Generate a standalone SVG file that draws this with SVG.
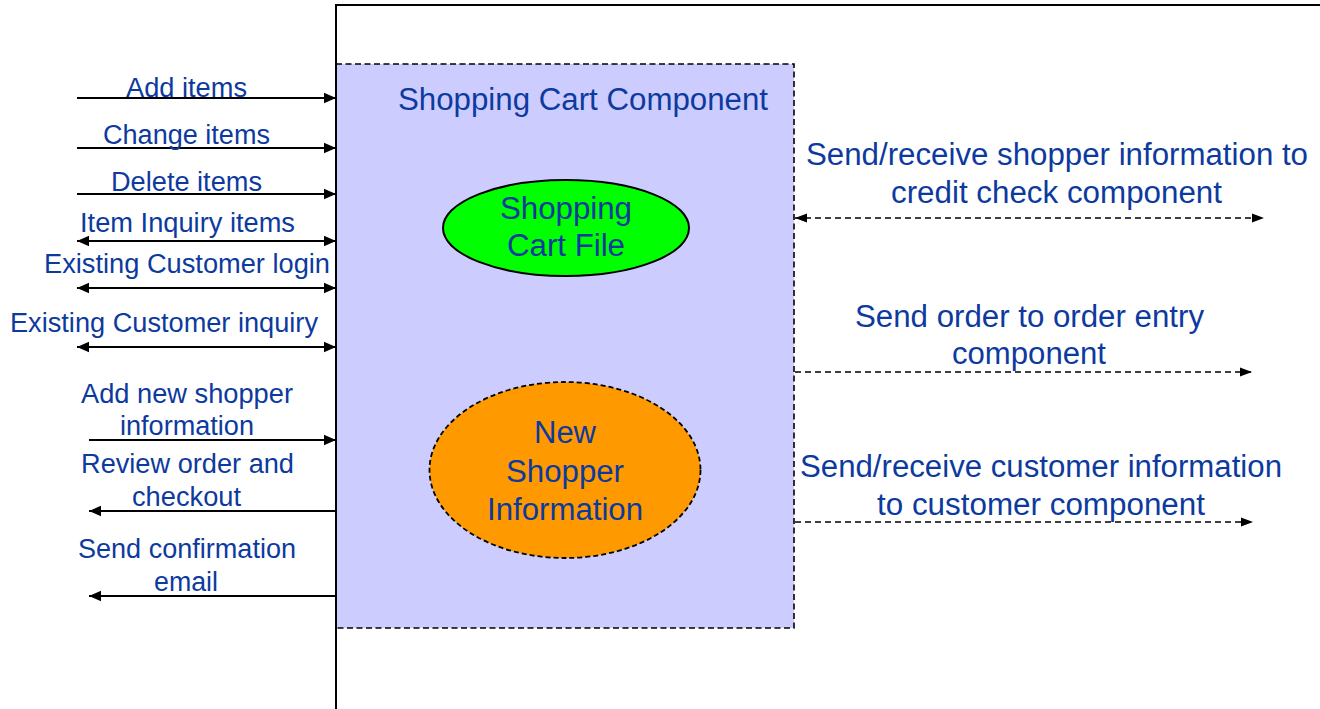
<svg xmlns="http://www.w3.org/2000/svg" width="1320" height="709" viewBox="0 0 1320 709">
<style>
.t{font-family:"Liberation Sans",Arial,sans-serif;fill:#0d3a9e;text-anchor:middle}
.s{font-size:27px}
.l{font-size:31px}
.c{stroke:#000;stroke-width:2;fill:none}
.d{stroke:#000;stroke-width:1.6;fill:none;stroke-dasharray:6 4}
</style>
<defs>
<marker id="a" markerUnits="userSpaceOnUse" markerWidth="14" markerHeight="12" refX="12" refY="6" orient="auto-start-reverse"><path d="M0,0.8 L12,6 L0,11.2 z" fill="#000"/></marker>
<marker id="b" markerUnits="userSpaceOnUse" markerWidth="14" markerHeight="12" refX="12" refY="6" orient="auto-start-reverse"><path d="M0,1.5 L12,6 L0,10.5 z" fill="#000"/></marker>
</defs>
<rect width="1320" height="709" fill="#fff"/>
<g id="frame">
<path d="M336,709 V5 H1320" stroke="#000" stroke-width="2" fill="none"/>
</g>
<g id="component">
<rect x="336" y="64" width="458" height="564" fill="#ccccff" stroke="#000" stroke-width="1.6" stroke-dasharray="6 3.5"/>
<path d="M336,64 V628" stroke="#000" stroke-width="2"/>
<text class="t l" x="583" y="110" textLength="370" lengthAdjust="spacingAndGlyphs">Shopping Cart Component</text>
</g>
<g id="cart-file">
<ellipse cx="566" cy="228" rx="123" ry="48" fill="#00ff00" stroke="#000" stroke-width="2"/>
<text class="t l" x="566" y="219" textLength="132" lengthAdjust="spacingAndGlyphs">Shopping</text>
<text class="t l" x="566" y="256" textLength="118" lengthAdjust="spacingAndGlyphs">Cart File</text>
</g>
<g id="new-shopper">
<ellipse cx="565" cy="470" rx="135.5" ry="88" fill="#ff9900" stroke="#000" stroke-width="1.8" stroke-dasharray="5 3"/>
<text class="t l" x="565" y="443" textLength="62" lengthAdjust="spacingAndGlyphs">New</text>
<text class="t l" x="565" y="482" textLength="118" lengthAdjust="spacingAndGlyphs">Shopper</text>
<text class="t l" x="565" y="520" textLength="156" lengthAdjust="spacingAndGlyphs">Information</text>
</g>
<g id="connectors">
<line class="c" x1="77" y1="98" x2="336" y2="98" marker-end="url(#a)"/>
<line class="c" x1="77" y1="148" x2="336" y2="148" marker-end="url(#a)"/>
<line class="c" x1="77" y1="194" x2="336" y2="194" marker-end="url(#a)"/>
<line class="c" x1="77" y1="241" x2="336" y2="241" marker-start="url(#a)" marker-end="url(#a)"/>
<line class="c" x1="77" y1="288" x2="336" y2="288" marker-start="url(#a)" marker-end="url(#a)"/>
<line class="c" x1="77" y1="347" x2="336" y2="347" marker-start="url(#a)" marker-end="url(#a)"/>
<line class="c" x1="89" y1="440" x2="336" y2="440" marker-end="url(#a)"/>
<line class="c" x1="336" y1="511" x2="89" y2="511" marker-end="url(#a)"/>
<line class="c" x1="336" y1="596" x2="89" y2="596" marker-end="url(#a)"/>
<line class="d" x1="795" y1="218" x2="1264" y2="218" marker-start="url(#b)" marker-end="url(#b)"/>
<line class="d" x1="795" y1="372" x2="1252" y2="372" marker-end="url(#b)"/>
<line class="d" x1="795" y1="522" x2="1253" y2="522" marker-end="url(#b)"/>
</g>
<g id="labels">
<text class="t s" x="186.5" y="97" textLength="121" lengthAdjust="spacingAndGlyphs">Add items</text>
<text class="t s" x="186.5" y="144" textLength="167" lengthAdjust="spacingAndGlyphs">Change items</text>
<text class="t s" x="186.5" y="191" textLength="151" lengthAdjust="spacingAndGlyphs">Delete items</text>
<text class="t s" x="187.5" y="232" textLength="215" lengthAdjust="spacingAndGlyphs">Item Inquiry items</text>
<text class="t s" x="187" y="273" textLength="286" lengthAdjust="spacingAndGlyphs">Existing Customer login</text>
<text class="t s" x="164" y="332" textLength="308" lengthAdjust="spacingAndGlyphs">Existing Customer inquiry</text>
<text class="t s" x="187" y="403" textLength="212" lengthAdjust="spacingAndGlyphs">Add new shopper</text>
<text class="t s" x="187" y="435" textLength="134" lengthAdjust="spacingAndGlyphs">information</text>
<text class="t s" x="187.5" y="473" textLength="213" lengthAdjust="spacingAndGlyphs">Review order and</text>
<text class="t s" x="186.5" y="506" textLength="109" lengthAdjust="spacingAndGlyphs">checkout</text>
<text class="t s" x="187" y="558" textLength="218" lengthAdjust="spacingAndGlyphs">Send confirmation</text>
<text class="t s" x="186" y="591" textLength="64" lengthAdjust="spacingAndGlyphs">email</text>
<text class="t l" x="1057" y="165" textLength="502" lengthAdjust="spacingAndGlyphs">Send/receive shopper information to</text>
<text class="t l" x="1056.5" y="203" textLength="331" lengthAdjust="spacingAndGlyphs">credit check component</text>
<text class="t l" x="1029.5" y="327" textLength="349" lengthAdjust="spacingAndGlyphs">Send order to order entry</text>
<text class="t l" x="1029" y="364" textLength="154" lengthAdjust="spacingAndGlyphs">component</text>
<text class="t l" x="1041" y="477" textLength="482" lengthAdjust="spacingAndGlyphs">Send/receive customer information</text>
<text class="t l" x="1041" y="515" textLength="328" lengthAdjust="spacingAndGlyphs">to customer component</text>
</g>
</svg>
